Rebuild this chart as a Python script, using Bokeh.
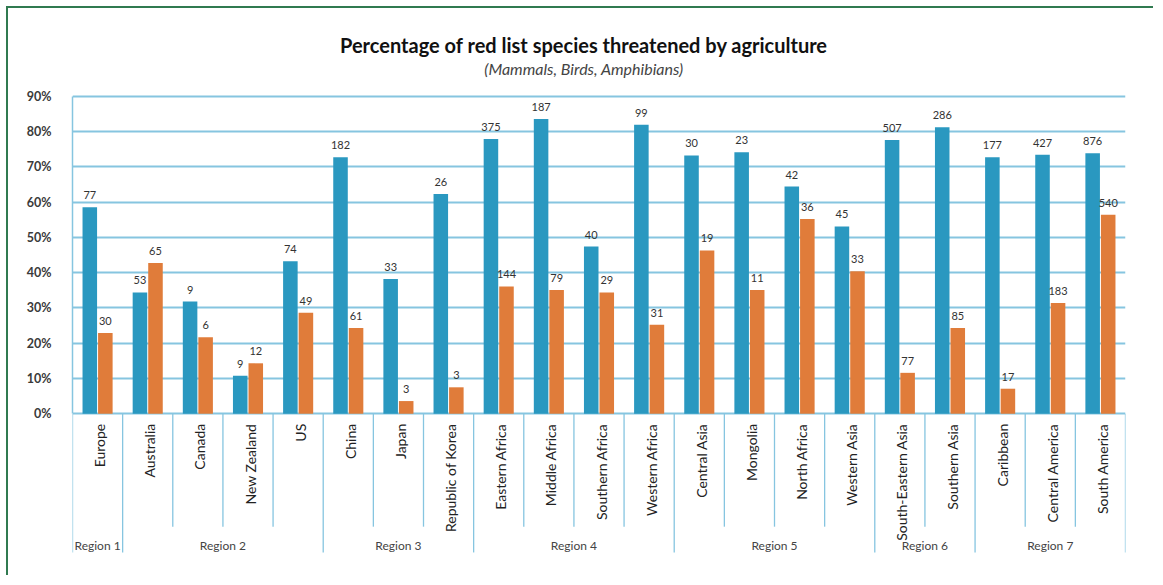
import math
from bokeh.plotting import figure
from bokeh.models import Range1d, FixedTicker, PrintfTickFormatter, ColumnDataSource
from bokeh.transform import dodge
from bokeh.embed import file_html
from bokeh.resources import INLINE
from bokeh.core.properties import value

# ---------------- data ----------------
countries = ["Europe", "Australia", "Canada", "New Zealand", "US", "China", "Japan",
             "Republic of Korea", "Eastern Africa", "Middle Africa", "Southern Africa",
             "Western Africa", "Central Asia", "Mongolia", "North Africa", "Western Asia",
             "South-Eastern Asia", "Southern Asia", "Caribbean", "Central America",
             "South America"]
regions = ["Region 1", "Region 2", "Region 3", "Region 4", "Region 5", "Region 6", "Region 7"]
region_sizes = [1, 4, 3, 4, 4, 2, 3]
blue_pct = [58.5, 34.4, 31.8, 10.8, 43.2, 72.7, 38.2, 62.3, 77.9, 83.5, 47.4,
            81.9, 73.2, 74.1, 64.4, 53.1, 77.6, 81.2, 72.7, 73.4, 73.8]
orange_pct = [22.9, 42.7, 21.7, 14.3, 28.6, 24.3, 3.6, 7.5, 36.1, 35.1, 34.4,
              25.2, 46.3, 35.1, 55.2, 40.4, 11.6, 24.3, 7.1, 31.4, 56.4]
blue_labels = ["77", "53", "9", "9", "74", "182", "33", "26", "375", "187", "40",
               "99", "30", "23", "42", "45", "507", "286", "177", "427", "876"]
orange_labels = ["30", "65", "6", "12", "49", "61", "3", "3", "144", "79", "29",
                 "31", "19", "11", "36", "33", "77", "85", "17", "183", "540"]
y_ticks = [0, 10, 20, 30, 40, 50, 60, 70, 80, 90]
title_text = "Percentage of red list species threatened by agriculture"
subtitle_text = "(Mammals, Birds, Amphibians)"

# ---------------- style ----------------
BLUE = "#2a98c0"
ORANGE = "#e07c3a"
GRID = "#86c5e0"
FONT = "Lato"
N = len(countries)

src = ColumnDataSource(dict(
    x=[i + 0.5 for i in range(N)],
    blue=blue_pct, orange=orange_pct,
    blue_lbl=blue_labels, orange_lbl=orange_labels,
    name=countries,
))

p = figure(width=1147, height=569, output_backend="svg", toolbar_location=None,
           x_range=Range1d(0, N), y_range=Range1d(-46.4, 114.85),
           x_axis_location=None,
           min_border_left=64, min_border_right=30, min_border_top=0, min_border_bottom=0)
p.margin = (6, 0, 0, 6)
p.outline_line_color = None
p.background_fill_color = "white"
p.border_fill_color = "white"
p.styles = {"border-left": "2px solid #307a50", "border-top": "2px solid #307a50"}

# grid
p.ygrid.ticker = FixedTicker(ticks=y_ticks)
p.ygrid.grid_line_color = GRID
p.ygrid.grid_line_width = 2
p.xgrid.visible = False

# y axis
yax = p.yaxis[0]
yax.ticker = FixedTicker(ticks=y_ticks)
yax.bounds = (0, 90)
yax.formatter = PrintfTickFormatter(format="%d%%")
yax.axis_line_color = GRID
yax.axis_line_width = 1.5
yax.major_tick_line_color = None
yax.minor_tick_line_color = None
yax.major_label_standoff = 15
yax.major_label_text_font = FONT
yax.major_label_text_font_size = "12.5px"
yax.major_label_text_font_style = "bold"
yax.major_label_text_color = "#3a3a3a"

# bars
p.vbar(x=dodge("x", -0.155, range=p.x_range), top="blue", width=0.29, bottom=0,
       source=src, fill_color=BLUE, line_color=None)
p.vbar(x=dodge("x", 0.155, range=p.x_range), top="orange", width=0.29, bottom=0,
       source=src, fill_color=ORANGE, line_color=None)

# data labels
lbl_kw = dict(text_align="center", text_baseline="middle", y_offset=-12,
              text_font=value(FONT), text_font_size="11px", text_color="#333333")
p.text(x=dodge("x", -0.155, range=p.x_range), y="blue", text="blue_lbl", source=src, **lbl_kw)
p.text(x=dodge("x", 0.155, range=p.x_range), y="orange", text="orange_lbl", source=src, **lbl_kw)

# category labels (vertical)
p.text(x="x", y=0, text="name", source=src, angle=math.pi / 2,
       text_align="right", text_baseline="middle", x_offset=2, y_offset=10,
       text_font=value(FONT), text_font_size="14px", text_color="#222222")

# separators
region_edges = [0]
for s in region_sizes:
    region_edges.append(region_edges[-1] + s)
inner = [i for i in range(1, N) if i not in region_edges]
p.segment(x0=inner, y0=[0] * len(inner), x1=inner, y1=[-32] * len(inner),
          line_color=GRID, line_width=1.3)
p.segment(x0=region_edges, y0=[0] * len(region_edges), x1=region_edges,
          y1=[-39.3] * len(region_edges), line_color=GRID, line_width=1.3)

# region labels
region_centers = [(region_edges[k] + region_edges[k + 1]) / 2 for k in range(len(regions))]
p.text(x=region_centers, y=[-37.2] * len(regions), text=regions,
       text_align="center", text_baseline="middle",
       text_font=value(FONT), text_font_size="12px", text_color="#444444")

# titles
p.text(x=[10.2], y=[104.4], text=[title_text], text_align="center", text_baseline="middle",
       text_font=value(FONT), text_font_size="20px", text_font_style="bold",
       text_color="#111111")
p.text(x=[10.2], y=[97.9], text=[subtitle_text], text_align="center", text_baseline="middle",
       text_font=value(FONT), text_font_size="16px", text_font_style="italic",
       text_color="#444444")

open("out.html", "w").write(file_html(p, INLINE))
